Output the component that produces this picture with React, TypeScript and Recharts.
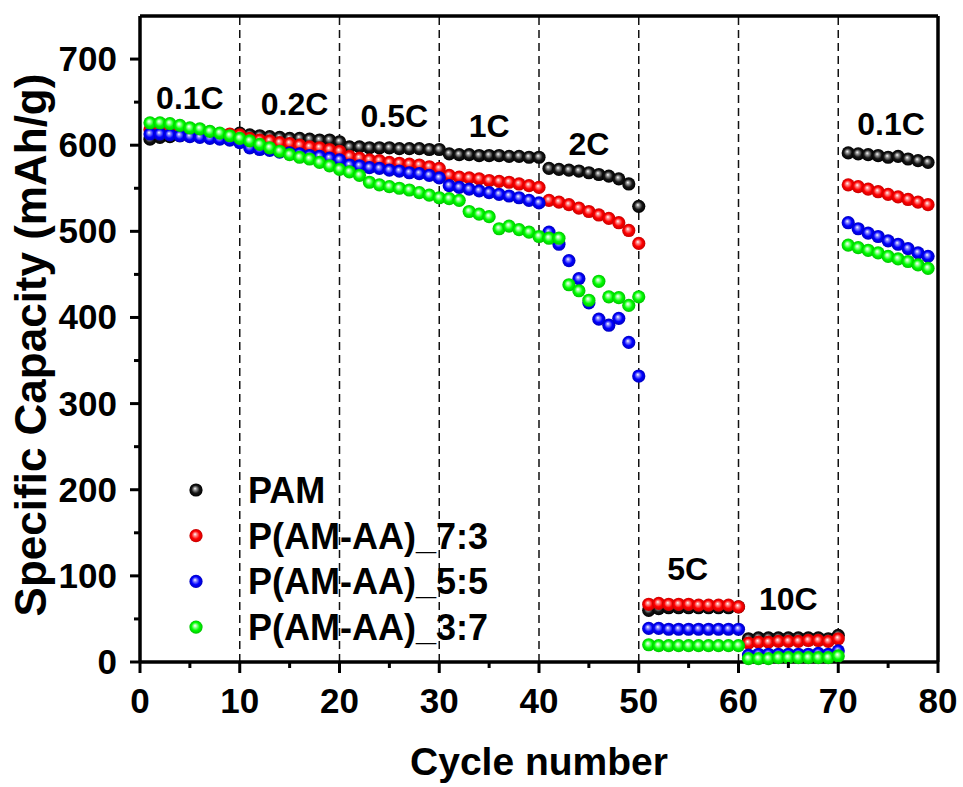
import React from "react";
import { ScatterChart, Scatter, XAxis, YAxis, ReferenceLine, ReferenceDot } from "recharts";

const cycles = Array.from({ length: 79 }, (_, i) => i + 1);

const pam = [
  607, 609, 610, 611, 611, 611, 611, 611, 612, 614,
  612, 611, 610, 609, 608, 608, 607, 606, 606, 604,
  598, 598, 597, 597, 597, 596, 596, 596, 595, 595,
  590, 589, 589, 588, 588, 588, 587, 587, 586, 586,
  573, 572, 571, 570, 568, 566, 564, 561, 555, 529,
  60, 62, 63, 63, 63, 63, 63, 63, 63, 64,
  27, 28, 28, 28, 28, 28, 28, 28, 27, 31,
  591, 590, 589, 588, 586, 587, 584, 582, 580,
];

const p73 = [
  618, 617, 616, 615, 615, 614, 614, 613, 613, 612,
  608, 606, 605, 603, 602, 600, 598, 597, 595, 593,
  587, 585, 583, 582, 580, 579, 578, 577, 575, 573,
  565, 563, 562, 561, 559, 558, 557, 555, 553, 551,
  536, 534, 531, 527, 523, 519, 515, 510, 501, 486,
  67, 68, 67, 67, 67, 66, 66, 66, 66, 64,
  22, 23, 23, 24, 24, 24, 25, 25, 24, 27,
  554, 552, 549, 546, 543, 540, 537, 534, 531,
];

const p55 = [
  613, 613, 612, 611, 610, 609, 608, 607, 606, 603,
  597, 595, 594, 592, 591, 590, 588, 587, 585, 583,
  577, 576, 574, 573, 571, 570, 568, 567, 565, 562,
  553, 551, 549, 547, 545, 543, 541, 539, 536, 533,
  499, 485, 466, 445, 417, 398, 391, 399, 371, 332,
  39, 39, 38, 38, 38, 38, 38, 38, 38, 38,
  8, 9, 9, 9, 9, 9, 9, 10, 9, 13,
  510, 503, 498, 494, 489, 485, 480, 475, 471,
];

const p37 = [
  626, 626, 625, 623, 620, 619, 616, 614, 611, 608,
  605, 601, 597, 593, 589, 586, 584, 580, 576, 572,
  569, 565, 557, 554, 552, 550, 548, 545, 542, 539,
  538, 536, 523, 520, 517, 503, 506, 502, 499, 494,
  492, 492, 438, 431, 420, 442, 424, 423, 414, 424,
  20, 19, 19, 19, 19, 19, 19, 19, 19, 19,
  4, 4, 4, 5, 5, 5, 5, 5, 5, 7,
  484, 481, 478, 475, 471, 468, 465, 461, 457,
];

const rateBoundaries = [10, 20, 30, 40, 50, 60, 70];
const rateLabels = [
  { text: "0.1C", x: 5, y: 655 },
  { text: "0.2C", x: 15.5, y: 648 },
  { text: "0.5C", x: 25.5, y: 634 },
  { text: "1C", x: 35, y: 622 },
  { text: "2C", x: 45, y: 601 },
  { text: "5C", x: 54.9, y: 108 },
  { text: "10C", x: 65, y: 73 },
  { text: "0.1C", x: 75.3, y: 625 },
];

const xTicks = [0, 5, 10, 15, 20, 25, 30, 35, 40, 45, 50, 55, 60, 65, 70, 75, 80];
const yTicks = [0, 50, 100, 150, 200, 250, 300, 350, 400, 450, 500, 550, 600, 650, 700];

const series = [
  { id: "pam", name: "PAM", values: pam, color: ["#ffffff", "#9a9a9a", "#161616", "#000000"] },
  { id: "p73", name: "P(AM-AA)_7:3", values: p73, color: ["#ffffff", "#ff9090", "#ff0000", "#c80000"] },
  { id: "p55", name: "P(AM-AA)_5:5", values: p55, color: ["#ffffff", "#9090ff", "#0000ff", "#0000c0"] },
  { id: "p37", name: "P(AM-AA)_3:7", values: p37, color: ["#ffffff", "#a8ffa8", "#00ff00", "#00c400"] },
];

const FONT = "'Liberation Sans', Arial, sans-serif";

function Ball({ cx, cy, id, r = 6.6 }: any) {
  if (cx == null || cy == null) return null;
  return <circle cx={cx} cy={cy} r={r} fill={`url(#ball-${id})`} />;
}

function Gradients() {
  return (
    <defs>
      {series.map((s) => (
        <radialGradient key={s.id} id={`ball-${s.id}`} cx="50%" cy="50%" r="50%" fx="42%" fy="38%">
          <stop offset="0%" stopColor={s.color[0]} />
          <stop offset="22%" stopColor={s.color[1]} />
          <stop offset="60%" stopColor={s.color[2]} />
          <stop offset="100%" stopColor={s.color[3]} />
        </radialGradient>
      ))}
    </defs>
  );
}

function XTick({ x, y, payload }: any) {
  const major = payload.value % 10 === 0;
  return (
    <g>
      <line x1={x} x2={x} y1={y} y2={y + (major ? 11 : 6)} stroke="#000" strokeWidth={3} />
      {major && (
        <text x={x} y={y + 51} textAnchor="middle" fontSize={35} fontWeight="bold" fontFamily={FONT} fill="#000">
          {payload.value}
        </text>
      )}
    </g>
  );
}

function YTick({ x, y, payload }: any) {
  const major = payload.value % 100 === 0;
  return (
    <g>
      <line x1={x} x2={x - (major ? 10 : 6)} y1={y} y2={y} stroke="#000" strokeWidth={3} />
      {major && (
        <text x={x - 23} y={y + 12} textAnchor="end" fontSize={35} fontWeight="bold" fontFamily={FONT} fill="#000">
          {payload.value}
        </text>
      )}
    </g>
  );
}

export default function App() {
  const data = series.map((s) => cycles.map((c, i) => ({ cycle: c, cap: s.values[i] })));

  return (
    <div style={{ position: "absolute", left: 0, top: 0, width: 963, height: 787, background: "#fff" }}>
      <ScatterChart width={963} height={787} margin={{ top: 16, right: 25, bottom: 0, left: 0 }}>
        <Gradients />
        {rateBoundaries.map((b) => (
          <ReferenceLine key={b} x={b} stroke="#111" strokeWidth={1.5} strokeDasharray="8 5" />
        ))}
        <ReferenceLine y={750} stroke="#000" strokeWidth={3.5} />
        <ReferenceLine x={80} stroke="#000" strokeWidth={3.5} />
        <XAxis
          type="number"
          dataKey="cycle"
          domain={[0, 80]}
          ticks={xTicks}
          interval={0}
          height={125}
          tickSize={0}
          tickMargin={0}
          tickLine={false}
          tick={<XTick />}
          axisLine={{ stroke: "#000", strokeWidth: 3.5 }}
          label={{
            content: (p: any) => (
              <text
                x={p.viewBox.x + p.viewBox.width / 2}
                y={p.viewBox.y + 113}
                textAnchor="middle"
                fontSize={39}
                fontWeight="bold"
                fontFamily={FONT}
              >
                Cycle number
              </text>
            ),
          }}
        />
        <YAxis
          type="number"
          dataKey="cap"
          domain={[0, 750]}
          ticks={yTicks}
          interval={0}
          width={140}
          tickSize={0}
          tickMargin={0}
          tickLine={false}
          tick={<YTick />}
          axisLine={{ stroke: "#000", strokeWidth: 3.5 }}
          label={{
            content: () => {
              const cy = 345;
              const bx = 46;
              return (
                <text
                  x={bx}
                  y={cy}
                  transform={`rotate(-90 ${bx} ${cy})`}
                  textAnchor="middle"
                  fontSize={44}
                  fontWeight="bold"
                  fontFamily={FONT}
                >
                  Specific Capacity (mAh/g)
                </text>
              );
            },
          }}
        />
        {series.map((s, k) => (
          <Scatter
            key={s.id}
            name={s.name}
            data={data[k]}
            isAnimationActive={false}
            shape={(p: any) => <Ball cx={p.cx} cy={p.cy} id={s.id} />}
          />
        ))}
        {rateLabels.map((l, i) => (
          <ReferenceDot
            key={i}
            x={l.x}
            y={l.y}
            r={0}
            shape={(p: any) => (
              <text
                x={p.cx}
                y={p.cy}
                textAnchor="middle"
                dominantBaseline="central"
                fontSize={32}
                fontWeight="bold"
                fontFamily={FONT}
              >
                {l.text}
              </text>
            )}
          />
        ))}
      </ScatterChart>
      <svg width={963} height={787} style={{ position: "absolute", left: 0, top: 0, pointerEvents: "none" }}>
        <Gradients />
        {series.map((s, i) => (
          <g key={s.id}>
            <Ball cx={196} cy={490 + i * 45.7} id={s.id} />
            <text x={248} y={490 + i * 45.7 + 13} fontSize={36} fontWeight="bold" fontFamily={FONT}>
              {s.name}
            </text>
          </g>
        ))}
      </svg>
    </div>
  );
}
